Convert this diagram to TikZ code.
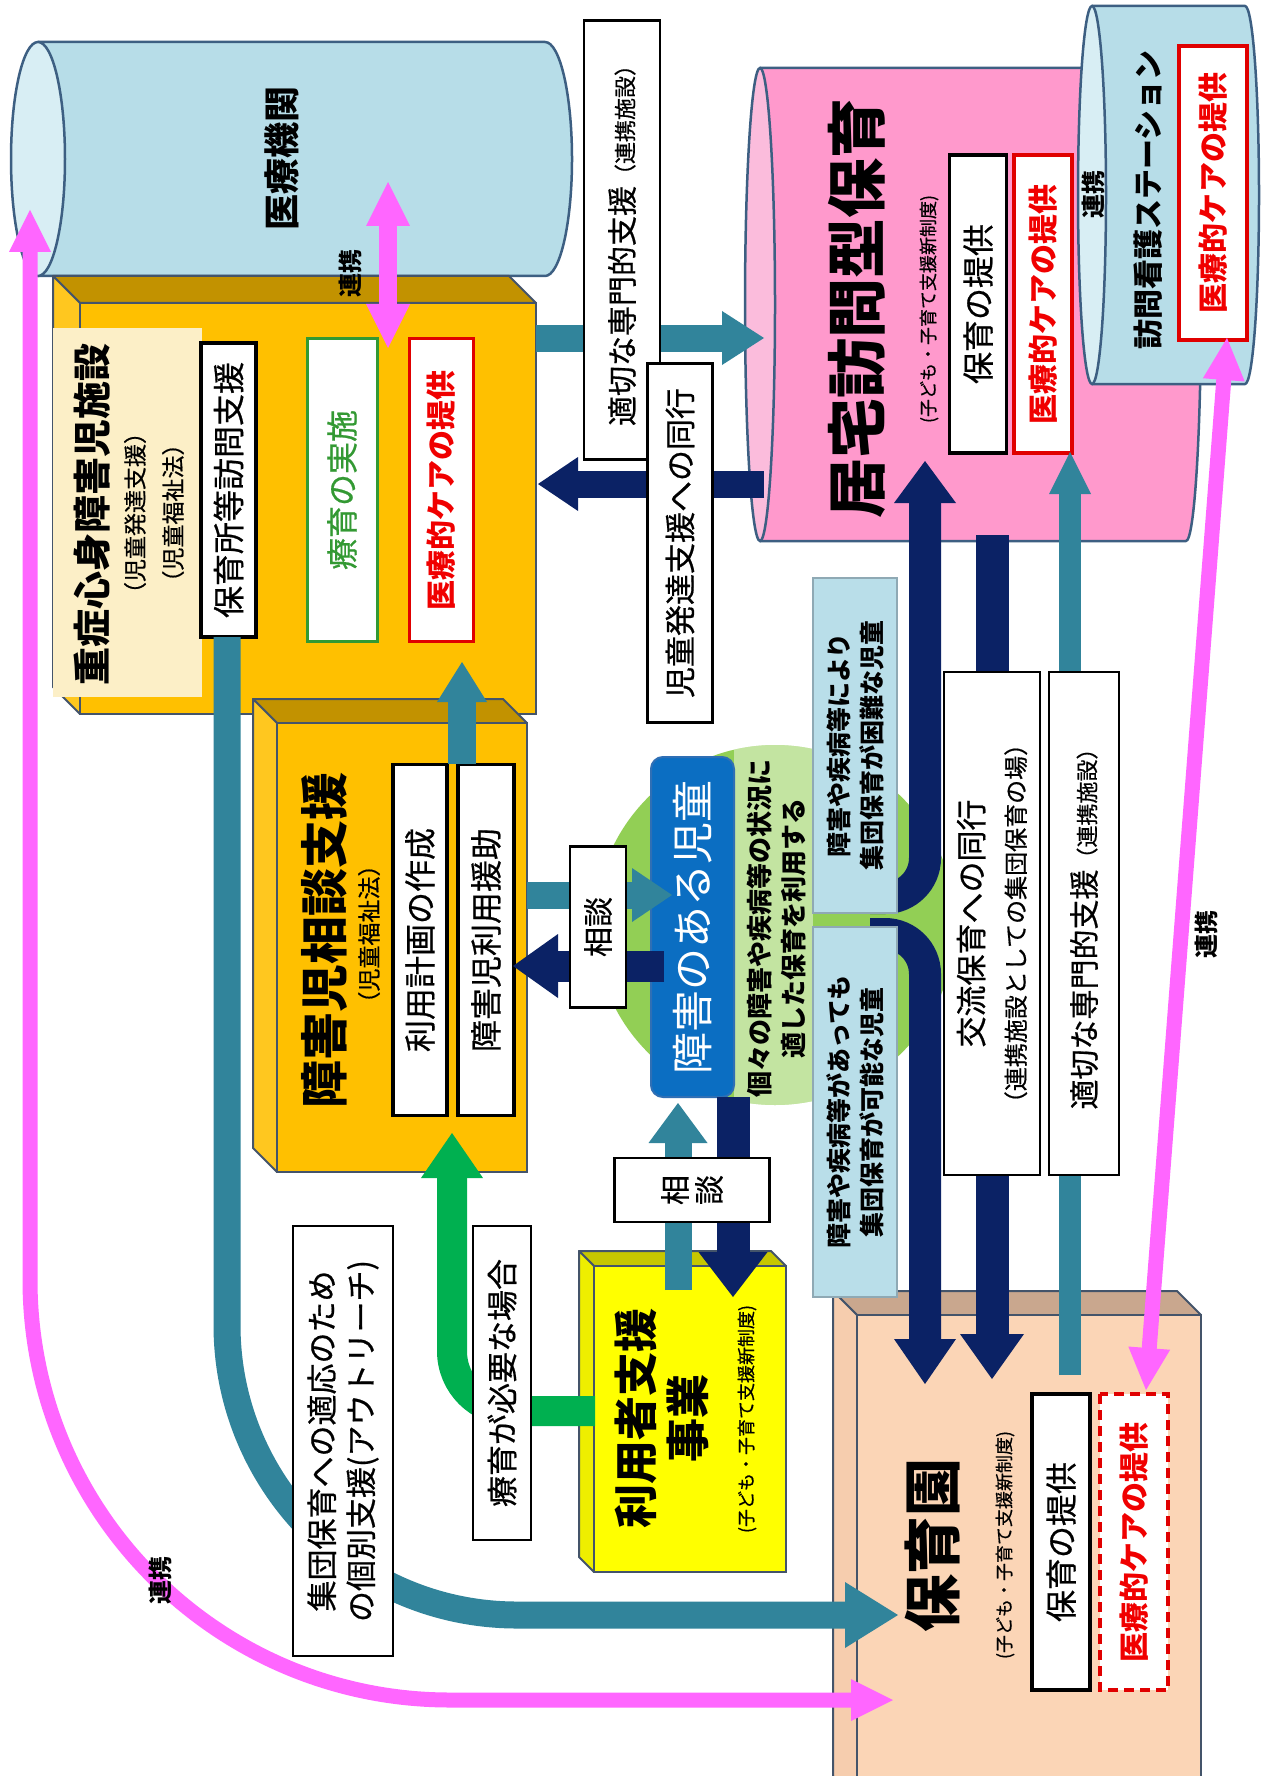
\documentclass[tikz,border=0pt]{standalone}
\usepackage{fontspec}
\setmainfont{Noto Sans CJK JP}
\newfontfamily\jpmed{Noto Sans CJK JP}[FakeBold=0.6]
\usetikzlibrary{calc}

\definecolor{cylblue}{HTML}{B7DDE8}
\definecolor{cylface}{HTML}{D8EEF4}
\definecolor{cyledge}{HTML}{3D5F82}
\definecolor{pinkbody}{HTML}{FF99CC}
\definecolor{pinkface}{HTML}{FBBCDC}
\definecolor{orangefront}{HTML}{FFC000}
\definecolor{orangetop}{HTML}{C29200}
\definecolor{orangeleft}{HTML}{FFC71F}
\definecolor{creamfill}{HTML}{FCEFC7}
\definecolor{boxedge}{HTML}{44546A}
\definecolor{navyarrow}{HTML}{0B2265}
\definecolor{tealarrow}{HTML}{31849B}
\definecolor{greenarrow}{HTML}{00B050}
\definecolor{pinkarrow}{HTML}{FF66FF}
\definecolor{circlegreen}{HTML}{92CF55}
\definecolor{childblue}{HTML}{0B6EC2}
\definecolor{childedge}{HTML}{2F6FB5}
\definecolor{paleblue}{HTML}{B9DEE9}
\definecolor{paleedge}{HTML}{8FA9B4}
\definecolor{yellowfront}{HTML}{FFFF00}
\definecolor{yellowtop}{HTML}{C7C700}
\definecolor{yellowleft}{HTML}{EEEE00}
\definecolor{peachfront}{HTML}{FBD5B6}
\definecolor{peachtop}{HTML}{C9A78E}
\definecolor{peachleft}{HTML}{F6CDAE}
\definecolor{carered}{HTML}{F00000}
\definecolor{careedge}{HTML}{E00000}
\definecolor{ryoikugreen}{HTML}{339933}

\newcommand\fsz[2]{\fontsize{#1}{#2}\selectfont}

% box with depth faces on the top and on the left: x1 y1 x2 y2 depth front top left
\newcommand\drawcube[8]{%
  \filldraw[fill=#7,draw=boxedge,line width=2pt,line join=round]
    (#1-#5,#2-#5) -- (#3-#5,#2-#5) -- (#3,#2) -- (#1,#2) -- cycle;
  \filldraw[fill=#8,draw=boxedge,line width=2pt,line join=round]
    (#1-#5,#2-#5) -- (#1,#2) -- (#1,#4) -- (#1-#5,#4-#5) -- cycle;
  \filldraw[fill=#6,draw=boxedge,line width=2pt] (#1,#2) rectangle (#3,#4);}

% lying can: x of left face, x of right end, y of axis, x radius, y radius, body, face
\newcommand\drawcan[7]{%
  \filldraw[fill=#6,draw=cyledge,line width=2.5pt,line join=round]
    (#1,#3-#5) -- (#2,#3-#5) arc[start angle=90,end angle=-90,x radius=#4pt,y radius=#5pt]
    -- (#1,#3+#5) -- cycle;
  \filldraw[fill=#7,draw=cyledge,line width=2.5pt] (#1,#3) ellipse[x radius=#4pt,y radius=#5pt];}

% triangular head: colour, tip, direction angle, length, width
\newcommand\drawhead[5]{%
  \begin{scope}[shift={(#2)},rotate=#3]
    \fill[#1] (0,0) -- (-#4,#5/2) -- (-#4,-#5/2) -- cycle;
  \end{scope}}

% straight block arrow: colour, from, to, shaft, head length, head width, angle
\newcommand\blockarrow[7]{%
  \pgfmathsetmacro\shortamt{#5-1.5}%
  \draw[#1,line width=#4pt,shorten >=\shortamt pt] (#2) -- (#3);
  \drawhead{#1}{#3}{#7}{#5}{#6}}

\begin{document}
\begin{tikzpicture}[x=1pt,y=-1pt,
  txt/.style={rotate=90,inner sep=0pt,align=center},
  pbox/.style={rotate=90,fill=white,inner sep=0pt,align=center},
  renkei/.style={rotate=90,inner sep=0pt,font=\bfseries\fsz{24}{28}}]
\useasboundingbox (0,0) rectangle (1263,1776);
\clip (0,0) rectangle (1263,1776);
\fill[white] (0,0) rectangle (1263,1776);

% green circle round the child
\fill[circlegreen] (775,925) circle[radius=180pt];
\begin{scope}
  \clip (775,925) circle[radius=180pt];
  \fill[white,opacity=0.45] (734,741) rectangle (813,1127);
\end{scope}

% cans
\drawcan{38}{545}{159}{27}{117}{cylblue}{cylface}
\drawcan{760}{1186}{304.5}{15}{236.5}{pinkbody}{pinkface}
\drawcan{1092}{1245}{195}{14}{189}{cylblue}{cylface}

\node[txt,font=\bfseries\fsz{36}{42}] (t-iryo) at (282,159) {医療機関};

% institution for children with severe disabilities
\drawcube{80}{303}{536}{714}{27}{orangefront}{orangetop}{orangeleft}
\fill[creamfill] (53,328) rectangle (202,697);
\node[txt,font=\bfseries\fsz{38}{44}] (t-jushin) at (92,514) {重症心身障害児施設};
\node[txt,font=\jpmed\fsz{23}{28}] (t-jushin-a) at (135,513) {（児童発達支援）};
\node[txt,font=\jpmed\fsz{23}{28}] (t-jushin-b) at (173,513) {（児童福祉法）};
\node[pbox,draw=black,line width=3.5pt,minimum width=294pt,minimum height=55pt,font=\jpmed\fsz{32}{38}]
  (hoikusho) at (228.5,490) {保育所等訪問支援};
\node[pbox,draw=ryoikugreen,line width=3pt,minimum width=303pt,minimum height=70pt,
  font=\jpmed\fsz{32}{38},text=ryoikugreen] (ryoiku) at (342,490) {療育の実施};
\node[pbox,draw=careedge,line width=3pt,minimum width=303pt,minimum height=64pt,
  font=\bfseries\fsz{30}{36},text=carered] (care-a) at (441,490) {医療的ケアの提供};

% consultation support
\drawcube{277}{723}{527}{1172}{24}{orangefront}{orangetop}{orangeleft}
\node[txt,font=\bfseries\fsz{48}{56}] (t-soudan) at (324,940) {障害児相談支援};
\node[txt,font=\jpmed\fsz{23}{28}] (t-soudan-law) at (369,934) {（児童福祉法）};
\node[pbox,draw=black,line width=3.5pt,minimum width=351pt,minimum height=54pt,font=\jpmed\fsz{32}{38}]
  (keikaku) at (420,940) {利用計画の作成};
\node[pbox,draw=black,line width=3.5pt,minimum width=351pt,minimum height=56pt,font=\jpmed\fsz{32}{38}]
  (enjo) at (486,940) {障害児利用援助};

% user support project
\drawcube{594}{1266}{786}{1572}{15}{yellowfront}{yellowtop}{yellowleft}
\node[txt,font=\bfseries\fsz{44}{52}] (t-riyosha) at (662,1418) {利用者支援\\事業};
\node[txt,font=\jpmed\fsz{18}{22}] (t-riyosha-sub) at (747,1419) {(子ども・子育て支援新制度)};

% nursery school
\drawcube{857}{1315}{1201}{1800}{24}{peachfront}{peachtop}{peachleft}
\node[txt,font=\bfseries\fsz{58}{66}] (t-hoikuen) at (932,1545) {保育園};
\node[txt,font=\jpmed\fsz{18}{22}] (t-hoikuen-sub) at (1005,1545) {(子ども・子育て支援新制度)};
\node[pbox,draw=black,line width=3.5pt,minimum width=296pt,minimum height=58pt,font=\jpmed\fsz{32}{38}]
  (hoikuen-teikyo) at (1061,1542) {保育の提供};
\node[pbox,draw=careedge,dash pattern=on 10pt off 6pt,line width=3.5pt,minimum width=296pt,
  minimum height=68pt,font=\bfseries\fsz{30}{36},text=carered] (hoikuen-care) at (1134,1542) {医療的ケアの提供};

% home-visit childcare
\node[txt,font=\bfseries\fsz{60}{70}] (t-kyotaku) at (857,308) {居宅訪問型保育};
\node[txt,font=\jpmed\fsz{18}{22}] (t-kyotaku-sub) at (929,309) {(子ども・子育て支援新制度)};
\node[pbox,draw=black,line width=3.5pt,minimum width=298pt,minimum height=57pt,font=\jpmed\fsz{32}{38}]
  (kyotaku-teikyo) at (978,304) {保育の提供};
\node[pbox,draw=careedge,line width=3.5pt,minimum width=298pt,minimum height=58pt,
  font=\bfseries\fsz{30}{36},text=carered] (kyotaku-care) at (1043,304) {医療的ケアの提供};

% visiting nurse station
\node[txt,font=\bfseries\fsz{30}{36}] (t-houmon) at (1148,200) {訪問看護ステーション};
\node[pbox,draw=careedge,line width=3.5pt,minimum width=294pt,minimum height=68pt,
  font=\bfseries\fsz{30}{36},text=carered] (houmon-care) at (1213,193) {医療的ケアの提供};

% the child
\node[rotate=90,draw=childedge,fill=childblue,rounded corners=12pt,line width=2pt,
  minimum width=340pt,minimum height=83pt,inner sep=0pt,text=white,font=\fsz{42}{48}]
  (child) at (692.5,927) {障害のある児童};
\node[txt,font=\bfseries\fsz{26}{34}] (t-individual) at (777,928)
  {個々の障害や疾病等の状況に\\適した保育を利用する};

% ---- connectors ----
\coordinate (c1a) at (536,338);  \coordinate (c1b) at (764,338);
\coordinate (c2a) at (764,484);  \coordinate (c2b) at (538,484);
\coordinate (c3a) at (388,182);  \coordinate (c3b) at (388,348);
\coordinate (c4a) at (462,764);  \coordinate (c4b) at (462,662);
\coordinate (c5a) at (527,895);  \coordinate (c5b) at (672,895);
\coordinate (c6a) at (664,966);  \coordinate (c6b) at (513,966);
\coordinate (c7a) at (678,1290); \coordinate (c7b) at (678,1103);
\coordinate (c8a) at (733,1097); \coordinate (c8b) at (733,1297);
\coordinate (c9a) at (595,1411); \coordinate (c9b) at (452,1133);
\coordinate (c10a) at (227,637); \coordinate (c10b) at (898,1615);
\coordinate (c11a) at (30,210);  \coordinate (c11b) at (893,1700);
\coordinate (c12a) at (870,898); \coordinate (c12b) at (925,461);
\coordinate (c13a) at (870,934); \coordinate (c13b) at (925,1384);
\coordinate (c14a) at (992,535); \coordinate (c14b) at (992,1379);
\coordinate (c15a) at (1070,1375); \coordinate (c15b) at (1070,452);
\coordinate (c16a) at (1146,1390); \coordinate (c16b) at (1227,338);

% outreach from the institution to the nursery school
\draw[tealarrow,line width=27pt,rounded corners=290pt,shorten >=51pt] (c10a) |- (c10b);
\drawhead{tealarrow}{c10b}{0}{53}{66}
% cooperation between the medical institution and the nursery school
\draw[pinkarrow,line width=15pt,rounded corners=420pt,shorten <=40pt,shorten >=40pt] (c11a) |- (c11b);
\drawhead{pinkarrow}{c11a}{90}{42}{42}
\drawhead{pinkarrow}{c11b}{0}{42}{42}
% therapy when needed
\draw[greenarrow,line width=30pt,rounded corners=60pt,shorten >=43pt] (c9a) -| (c9b);
\drawhead{greenarrow}{c9b}{90}{45}{62}

\blockarrow{tealarrow}{c1a}{c1b}{27}{42}{54}{0}
\blockarrow{navyarrow}{c2a}{c2b}{27}{40}{54}{180}
\draw[pinkarrow,line width=18pt,shorten <=42pt,shorten >=42pt] (c3a) -- (c3b);
\drawhead{pinkarrow}{c3a}{90}{44}{44}
\drawhead{pinkarrow}{c3b}{-90}{44}{44}
\blockarrow{tealarrow}{c4a}{c4b}{28}{40}{50}{90}
\blockarrow{tealarrow}{c5a}{c5b}{27}{40}{54}{0}
\blockarrow{navyarrow}{c6a}{c6b}{31}{45}{64}{180}
\blockarrow{tealarrow}{c7a}{c7b}{27}{40}{59}{90}
\blockarrow{navyarrow}{c8a}{c8b}{33}{45}{69}{-90}

\draw[navyarrow,line width=32pt,rounded corners=40pt,shorten >=40pt] (c12a) -| (c12b);
\drawhead{navyarrow}{c12b}{90}{42}{62}
\draw[navyarrow,line width=32pt,rounded corners=40pt,shorten >=43pt] (c13a) -| (c13b);
\drawhead{navyarrow}{c13b}{-90}{45}{62}
\blockarrow{navyarrow}{c14a}{c14b}{33}{45}{64}{-90}
\blockarrow{tealarrow}{c15a}{c15b}{22}{42}{42}{90}
\draw[pinkarrow,line width=15pt,shorten <=40pt,shorten >=40pt] (c16a) -- (c16b);
\drawhead{pinkarrow}{c16b}{85.6}{42}{42}
\drawhead{pinkarrow}{c16a}{-94.4}{42}{42}

% ---- labels on the connectors ----
\node[pbox,draw=black,line width=2.5pt,minimum width=439pt,minimum height=76pt,font=\jpmed\fsz{30}{36}]
  (tekisetsu-top) at (622,240) {適切な専門的支援{\fsz{22}{26}（連携施設）}};
\node[pbox,draw=black,line width=2.5pt,minimum width=359pt,minimum height=65pt,font=\jpmed\fsz{31}{36}]
  (doukou-top) at (680,543) {児童発達支援への同行};
\node[pbox,draw=black,line width=2.5pt,minimum width=161pt,minimum height=56pt,font=\jpmed\fsz{30}{36}]
  (soudan-a) at (598,927) {相談};
\node[pbox,draw=black,line width=2.5pt,minimum width=64pt,minimum height=155pt,font=\jpmed\fsz{30}{34}]
  (soudan-b) at (692,1190) {相\\談};
\node[pbox,draw=black,line width=2.5pt,minimum width=314pt,minimum height=58pt,font=\jpmed\fsz{31}{36}]
  (ryoiku-need) at (502,1383) {療育が必要な場合};
\node[pbox,draw=black,line width=2.5pt,minimum width=430pt,minimum height=100pt,font=\jpmed\fsz{31}{39}]
  (outreach) at (343,1441) {集団保育への適応のため\\の個別支援(アウトリーチ)};
\node[pbox,fill=paleblue,draw=paleedge,line width=1.5pt,minimum width=335pt,minimum height=84pt,
  font=\bfseries\fsz{25}{33}] (lb-difficult) at (855,745.5) {障害や疾病等により\\集団保育が困難な児童};
\node[pbox,fill=paleblue,draw=paleedge,line width=1.5pt,minimum width=370pt,minimum height=84pt,
  font=\bfseries\fsz{25}{33}] (lb-possible) at (855,1112) {障害や疾病等があっても\\集団保育が可能な児童};
\node[pbox,draw=black,line width=2.5pt,minimum width=503pt,minimum height=96pt,font=\jpmed\fsz{31}{42}]
  (kouryu) at (992,923.5) {交流保育への同行\\{\fsz{24}{30}（連携施設としての集団保育の場）}};
\node[pbox,draw=black,line width=2.5pt,minimum width=503pt,minimum height=70pt,font=\jpmed\fsz{30}{36}]
  (tekisetsu-low) at (1084,923.5) {適切な専門的支援{\fsz{22}{26}（連携施設）}};

\node[renkei] (renkei-a) at (350,274) {連携};
\node[renkei] (renkei-b) at (1093,195) {連携};
\node[renkei] (renkei-c) at (1206,934) {連携};
\node[renkei] (renkei-d) at (160,1580) {連携};
\end{tikzpicture}
\end{document}
